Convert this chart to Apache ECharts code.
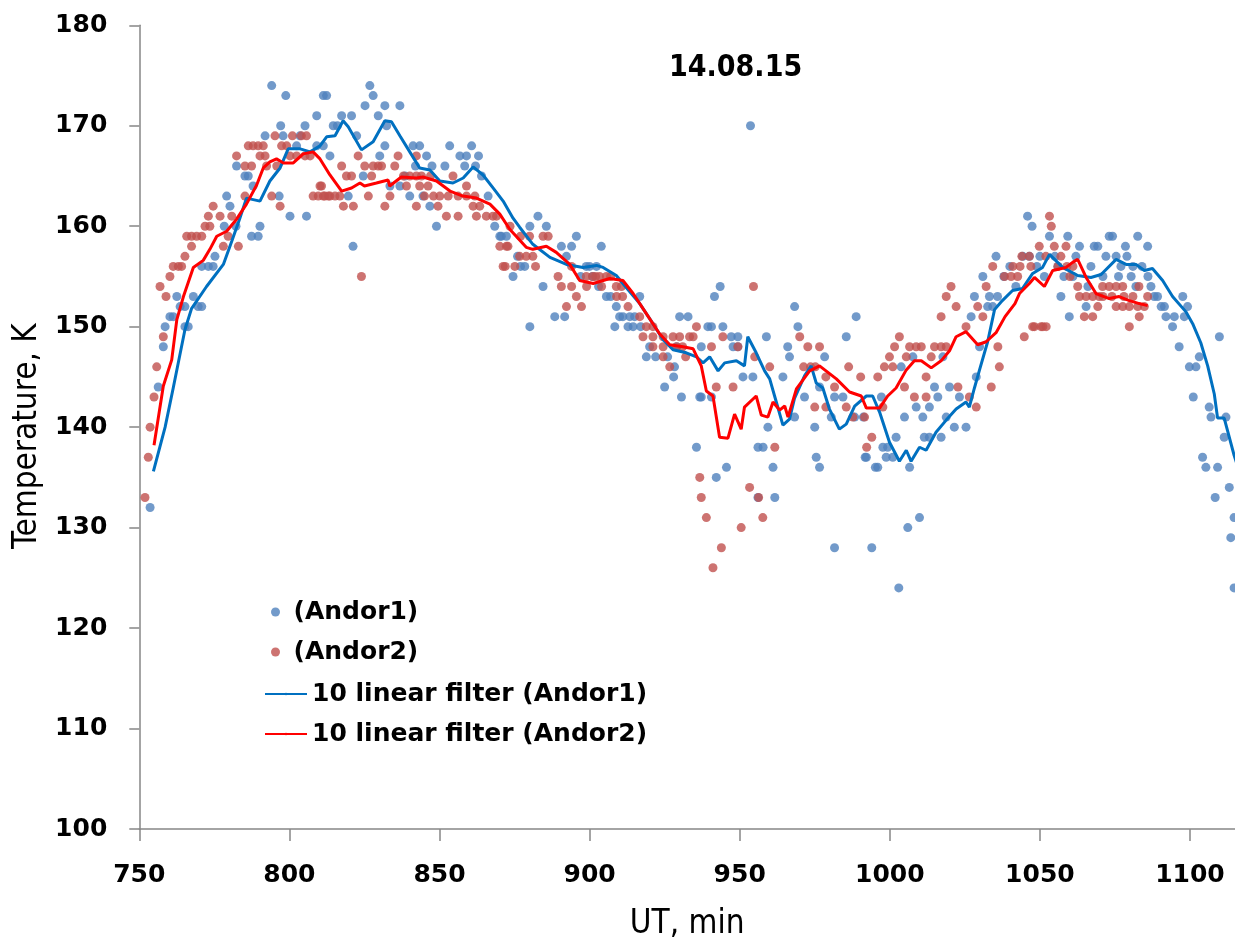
<!DOCTYPE html>
<html>
<head>
<meta charset="utf-8">
<script src="https://cdn.jsdelivr.net/npm/echarts@6/dist/echarts.min.js"></script>
<style>
html,body{margin:0;padding:0;background:#fff;}
#chart{width:1235px;height:946px;}
</style>
</head>
<body>
<div id="chart"></div>
<script>
const chartTitle = '14.08.15';
const xAxisName = 'UT, min';
const yAxisName = 'Temperature, K';
const xTicks = [750, 800, 850, 900, 950, 1000, 1050, 1100];
const yTicks = [100, 110, 120, 130, 140, 150, 160, 170, 180];
const seriesNames = ['(Andor1)', '(Andor2)', '10 linear filter (Andor1)', '10 linear filter (Andor2)'];

// Andor1 measurements [UT min, K]
const andor1 = [
[753.6,132],[756.3,144],[758,148],[758.6,150],[760.2,151],[761.3,151],[762.5,153],[763.6,152],[765.2,152],[765.2,150],[766.3,150],[768,153],[769.6,152],[770.8,152],[770.8,156],[773,156],[774.6,156],[775.2,157],[778.3,160],[779.1,163],[780.2,162],[782.2,160],[782.4,166],[785.2,165],[786.3,165],[787.4,159],[787.9,164],[789.6,159],[790.2,160],[791.9,169],[794.1,174],[796.6,163],[797.1,170],[797.9,169],[798.8,173],[800.2,161],[802.4,168],[803.5,169],[805.2,170],[805.7,161],[809.1,171],[809.1,168],[811.3,168],[811.3,173],[812.4,173],[813.5,167],[814.6,170],[816,170],[817.4,171],[819.6,163],[820.7,171],[821.2,158],[822.4,169],[824.6,165],[825.2,172],[826.8,174],[827.9,173],[829.6,171],[830.1,167],[831.8,172],[831.8,168],[832.4,170],[833.5,164],[836.8,164],[836.8,172],[838.5,165],[840.1,163],[841.2,168],[842,166],[843.4,168],[844.5,163],[845.7,167],[846.8,162],[847.5,166],[849,160],[851.8,166],[853.4,168],[856.8,167],[858.4,166],[859,167],[860.7,168],[862,166],[863,167],[864,165],[866.2,163],[868.4,160],[870.1,159],[870.6,159],[872.3,159],[874.5,155],[876,157],[877,156],[878.4,156],[880.1,160],[880.1,150],[882.8,161],[884.5,154],[885.6,160],[888.4,151],[890.6,158],[891.7,151],[892.3,157],[894,158],[895.6,159],[897,155],[898.9,156],[900,156],[901,155],[902.3,156],[903,154],[903.9,158],[905.6,153],[907,153],[908.4,150],[908.9,152],[910,151],[911.1,151],[912.8,150],[913.4,151],[914.5,150],[915,151],[916.7,153],[917,150],[918.9,147],[920,148],[922,147],[925,144],[926,147],[928,145],[928.3,146],[929,148],[930,151],[930.6,143],[932.8,151],[935.6,138],[936.7,143],[937.2,148],[937.2,143],[939.4,150],[940.6,150],[940.6,143],[941.6,153],[942.2,135],[943.5,154],[944.4,150],[945.6,136],[947.2,149],[947.8,148],[949.4,149],[949.4,148],[951.1,145],[953.6,170],[954.4,145],[956.1,138],[956.1,133],[957.8,138],[958.9,149],[959.4,140],[961.1,136],[961.7,133],[964.4,145],[966,148],[966.6,147],[968.3,152],[968.3,141],[969.4,150],[971.6,143],[975,140],[975.5,137],[976.6,144],[976.6,136],[978.3,147],[980.5,141],[981.6,143],[981.6,128],[984.4,143],[985.5,149],[988.3,141],[988.8,151],[991.2,141],[991.8,137],[992.2,137],[994,128],[995.2,136],[996,136],[997.2,143],[997.7,138],[998.8,137],[999.3,138],[1001,137],[1002.1,139],[1003,124],[1003.8,146],[1004.9,141],[1006,130],[1006.6,136],[1007.7,147],[1008.8,142],[1009.9,131],[1011,141],[1011.5,139],[1013.2,139],[1013.2,142],[1014.9,144],[1016,143],[1017.1,139],[1017.7,147],[1018.8,141],[1019.9,144],[1021.5,140],[1023.2,143],[1025.4,140],[1027.1,151],[1028.2,153],[1028.8,145],[1029.9,148],[1031,155],[1032.6,152],[1033.2,153],[1034.3,152],[1035.4,157],[1035.9,153],[1038,155],[1040,156],[1042,154],[1044.3,157],[1045.9,161],[1046.5,157],[1047.4,160],[1049,156],[1050,157],[1051.5,155],[1053.2,159],[1055,157],[1056,156],[1057,153],[1058,155],[1059.3,159],[1059.8,151],[1061,155],[1062,157],[1063.2,158],[1065.4,152],[1066,154],[1067,156],[1068.1,158],[1069.3,158],[1071,155],[1072,157],[1073.1,159],[1074.2,159],[1075.4,157],[1076.2,155],[1077,156],[1078.5,158],[1079,157],[1080.4,155],[1081,156],[1082,154],[1082.6,159],[1084,156],[1085.9,158],[1086,155],[1087,154],[1088.1,153],[1089.2,153],[1090.4,152],[1091.5,152],[1092,151],[1094.2,150],[1094.8,151],[1096.4,148],[1097.6,153],[1098.1,151],[1099.2,152],[1099.8,146],[1101.1,143],[1102,146],[1103.1,147],[1104.2,137],[1105.3,136],[1106.4,142],[1107,141],[1108.4,133],[1109.2,136],[1109.8,149],[1111.4,139],[1112,141],[1113.1,134],[1113.6,129],[1114.7,131],[1114.7,124]
];

// Andor2 measurements [UT min, K]
const andor2 = [
[751.9,133],[753,137],[753.6,140],[754.9,143],[755.8,146],[756.9,154],[758,149],[758.9,153],[760.2,155],[761.3,156],[763,156],[764.1,156],[765.2,157],[765.8,159],[767.4,158],[767.4,159],[769.1,159],[770.8,159],[771.9,160],[773,161],[773.5,160],[774.6,162],[776.9,161],[778,158],[779.6,159],[780.8,161],[782.4,167],[783,158],[785.2,163],[785.2,166],[786.3,168],[787.4,166],[787.9,168],[789.6,168],[790.2,167],[791.3,168],[791.9,167],[792.4,166],[794.1,163],[795.2,169],[795.8,166],[796.9,162],[797.4,168],[799.1,168],[800.2,167],[801,169],[802.4,167],[804,169],[805.2,167],[805.7,169],[806.9,167],[807.9,163],[809.6,163],[810.2,164],[810.7,164],[811.3,163],[811.8,163],[813,163],[813.5,163],[815.2,163],[816.8,163],[817.4,166],[818,162],[819,165],[820.7,165],[821.3,162],[822.9,167],[824,155],[825.1,166],[826.3,163],[827.4,165],[827.9,166],[829.6,166],[830.7,166],[831.8,162],[833.5,163],[835.1,166],[836.2,167],[838,165],[839,164],[840.1,165],[842.3,167],[842.3,165],[842.3,162],[843.4,164],[844,165],[845,163],[846.2,164],[847,165],[848,163],[849.5,162],[850.1,163],[852.3,161],[852.9,163],[854.5,165],[856.2,163],[856.2,161],[859,164],[859,163],[861.2,162],[861.8,163],[862.3,161],[863.4,162],[865.6,161],[867.8,161],[869,161],[870.1,158],[871.2,156],[871.9,156],[872.3,158],[872.8,158],[873.5,160],[875.1,156],[876.7,157],[877,159],[878.9,157],[880,159],[881.1,157],[882,156],[884.5,159],[886.2,159],[889.5,155],[890.6,154],[892.3,152],[894,154],[894,156],[895.6,153],[897.3,152],[898.9,155],[899,154],[901,155],[902,155],[903.3,155],[904,154],[905.6,155],[907,155],[908.9,154],[909,153],[910.6,154],[911,153],[912.8,152],[916.7,151],[917.8,149],[918.9,150],[921.1,150],[921.1,149],[921.1,148],[924.5,149],[924.5,148],[924.5,147],[926.7,146],[927.8,149],[929,148],[930,149],[931,148],[932,147],[933.3,149],[934.5,149],[935.6,150],[936.7,135],[937.2,133],[938.9,131],[940.6,148],[941.1,126],[942.2,144],[943.9,128],[944.4,149],[947.8,144],[949.4,148],[950.5,130],[953.3,134],[954.6,154],[955,147],[956.3,133],[957.7,131],[960,146],[961.7,138],[970,149],[971.3,146],[972.7,148],[973.6,146],[975,142],[975.2,146],[976.6,148],[978.7,145],[978.7,142],[981.6,144],[985.5,142],[986.3,146],[987.7,141],[990.3,145],[991.6,141],[992.3,138],[994,139],[996,145],[997.7,142],[998.2,146],[999.9,147],[1001,146],[1001.6,148],[1003.2,149],[1004.9,144],[1005.5,147],[1006.6,148],[1008.2,143],[1008.8,148],[1010.5,148],[1012.1,145],[1012.1,143],[1013.8,147],[1014.9,148],[1017.1,151],[1017.1,148],[1018.8,153],[1018.8,148],[1020.4,154],[1022.1,152],[1022.7,144],[1025.4,150],[1026.5,143],[1028.8,142],[1029.3,152],[1031,151],[1032.1,154],[1033.8,144],[1034.3,156],[1036,148],[1036.5,146],[1038.2,155],[1040.4,155],[1041,156],[1042.6,155],[1043.4,156],[1044,157],[1044.8,149],[1046.5,157],[1047,156],[1047.6,150],[1048.2,150],[1049.8,158],[1050.4,150],[1051,150],[1052,157],[1052.1,150],[1053.2,161],[1053.8,160],[1054.8,158],[1056,156],[1057,157],[1058.7,158],[1059,156],[1060,155],[1061,156],[1062.6,154],[1063.2,153],[1064.8,151],[1065.4,153],[1067.6,153],[1067.6,151],[1069.3,152],[1069.8,153],[1070.9,154],[1071,153],[1073.1,154],[1074,153],[1075.4,154],[1075.4,152],[1077.6,154],[1077.6,152],[1078,153],[1079.8,152],[1079.8,150],[1081,153],[1082.6,152],[1083,154],[1083.1,151],[1084.8,152],[1085.9,153]
];

// 10-point linear filter of Andor1 [UT min, K]
const filter1 = [
[754.7,135.6],[758.6,140],[761.3,143.9],[765.2,149.7],[767.4,151.8],[772.4,154],[778,156.2],[780.8,158.5],[783.5,160.8],[785.7,162.8],[790.2,162.5],[793.5,164.5],[796.9,165.8],[799.6,167.7],[803.6,167.7],[806.9,167.4],[810.2,168],[812.4,168.9],[815.2,169],[817.9,170.5],[819.6,169.9],[824,167.6],[827.9,168.4],[831.8,170.5],[834,170.4],[836.8,169],[840.1,167.4],[843.4,165.8],[846.8,165.6],[850.1,164.5],[854.5,164.3],[857.9,164.8],[861.2,165.9],[864.5,165.1],[867.9,163.8],[871.2,162.5],[874.5,160.8],[876.7,159.9],[881.1,158.2],[886.8,156.9],[892.3,156.2],[897.8,155.9],[902.3,156.1],[904.5,155.9],[908.9,155.1],[912.2,153.9],[916.7,152.3],[921.1,150.3],[924.5,148.7],[927.8,147.7],[932.2,147.4],[935.6,147],[937.8,146.4],[940,147],[942.8,145.6],[945,146.4],[948.9,146.6],[951.6,146.1],[952.7,149],[955.5,147.4],[958.3,145.6],[960,144.8],[962.2,142.5],[964.4,140.2],[966.6,140.8],[968.3,142.9],[971.6,145.1],[973.8,146.1],[975.5,144.4],[977.7,143.9],[979.9,141.8],[983.2,139.8],[985.5,140.3],[988.3,142.1],[992.2,143.1],[994.3,143.1],[996.6,141.5],[999.9,138.5],[1003.2,136.6],[1005.5,137.7],[1007.1,136.6],[1009.9,138],[1012.1,137.7],[1015.4,139.5],[1018.8,140.7],[1022.1,141.8],[1025.4,142.5],[1026.5,142],[1028.2,143.9],[1029.9,145.7],[1032.6,148.5],[1034.9,151.7],[1037.5,152.6],[1040.9,153.6],[1044.2,153.8],[1047.6,155.3],[1050.9,155.9],[1053.2,157.2],[1057.6,155.9],[1062.6,155.1],[1067,154.9],[1070.4,155.2],[1075.4,156.7],[1078.7,156.2],[1082,156.2],[1084.8,155.6],[1087.5,155.8],[1090.9,154.6],[1094.2,153],[1098.6,151.5],[1100.9,150.3],[1103.6,148.4],[1105.9,146.1],[1108.1,143.3],[1109.2,140.9],[1111.4,140.9],[1114.7,137.2],[1116,136]
];

// 10-point linear filter of Andor2 [UT min, K]
const filter2 = [
[754.9,138.2],[758,144.1],[760.8,146.7],[762.5,150.7],[764.7,153],[768,155.9],[771.3,156.6],[773.5,157.7],[775.8,159],[779.1,159.5],[782.4,160.7],[785.7,162.2],[789.1,164.1],[791.3,165.8],[793.5,166.4],[795.7,166.7],[798,166.3],[801.3,166.3],[804.6,167.2],[807.9,167.4],[810.2,166.7],[813.5,165.1],[817.4,163.5],[820.7,163.8],[823.5,164.3],[825,164],[829,164.3],[832.9,164.6],[833.4,164],[837.3,164.9],[842.3,164.8],[844.5,164.9],[849,164.5],[853.5,163.5],[857.8,163],[862.3,162.8],[866.8,162.2],[870.1,161.2],[873.4,159.7],[878.9,157.9],[881.1,157.7],[885.6,158],[888.9,157.4],[893.4,156.2],[896.7,154.6],[901.2,154.3],[906.7,154.8],[911.1,154.6],[914.5,153.3],[918.9,151.3],[923.3,149.3],[926.7,148.2],[931.1,148],[934.5,147.8],[937.2,146.1],[938.9,143.6],[941.1,143.1],[943.3,139],[946.1,138.9],[948.3,141.3],[950.5,139.8],[951.6,142],[955.5,143.1],[957.2,141.2],[959.4,141],[961.1,142.5],[963.3,141.7],[965,142.1],[966.1,141],[968.9,143.8],[973.3,145.6],[976.6,146.1],[982.2,144.8],[986.6,143.5],[990.5,143.1],[992.2,141.9],[996.6,141.9],[999.3,143.1],[1002.1,143.9],[1005.5,145.7],[1008.2,146.6],[1010.5,146.6],[1013.8,145.9],[1017.1,146.6],[1019.9,147.6],[1022.1,149],[1025.4,149.5],[1029.3,148.2],[1032.1,148.5],[1035.4,149.4],[1038.4,151],[1041.7,152.3],[1043.2,153.3],[1046.5,154.3],[1048.2,154.9],[1051.5,154],[1054.3,155.6],[1058.7,155.9],[1060.9,156.4],[1062.6,156.7],[1065.4,154.9],[1068.7,153.3],[1073.1,152.8],[1076.4,153],[1079.8,152.6],[1083.1,152.3],[1085.9,152.1]
];

const chart = echarts.init(document.getElementById('chart'), null, {renderer: 'canvas'});
const axisGray = '#868686';
const labelFont = {color: '#000', fontFamily: 'DejaVu Sans', fontWeight: 'bold', fontSize: 25};

chart.setOption({
  animation: false,
  backgroundColor: '#ffffff',
  title: {
    text: chartTitle,
    left: 669, top: 53, padding: 0,
    textStyle: {fontFamily: 'DejaVu Sans Condensed', fontWeight: 'bold', fontSize: 30, color: '#000'}
  },
  grid: {left: 139.3, top: 25.3, right: 0, bottom: 107.7, containLabel: false},
  legend: [
    {
      data: [seriesNames[0], seriesNames[1]],
      orient: 'vertical', left: 266, top: 592,
      itemWidth: 26, itemHeight: 9, itemGap: 10,
      textStyle: {fontFamily: 'DejaVu Sans', fontWeight: 'bold', fontSize: 25, color: '#000', lineHeight: 30}
    },
    {
      data: [seriesNames[2], seriesNames[3]],
      orient: 'vertical', left: 259, top: 674,
      itemWidth: 42, itemHeight: 3, itemGap: 10,
      textStyle: {fontFamily: 'DejaVu Sans', fontWeight: 'bold', fontSize: 25, color: '#000', lineHeight: 30}
    }
  ],
  xAxis: {
    type: 'value', min: 750, max: 1115, interval: 50,
    name: xAxisName, nameLocation: 'middle', nameGap: 79,
    nameTextStyle: {fontFamily: 'DejaVu Sans Condensed', fontSize: 33, color: '#000'},
    axisLine: {show: true, lineStyle: {color: axisGray, width: 1.5}},
    axisTick: {show: true, length: 12, lineStyle: {color: axisGray, width: 1.5}, customValues: xTicks},
    axisLabel: Object.assign({margin: 34, customValues: xTicks,
      formatter: v => (xTicks.indexOf(v) >= 0 ? String(v) : '')}, labelFont),
    splitLine: {show: false}
  },
  yAxis: {
    type: 'value', min: 100, max: 180, interval: 10,
    name: yAxisName, nameLocation: 'middle', nameGap: 95, nameRotate: 90,
    nameTextStyle: {fontFamily: 'DejaVu Sans Condensed', fontSize: 33, color: '#000', padding: [0, 18, 0, 0]},
    axisLine: {show: true, lineStyle: {color: axisGray, width: 1.5}},
    axisTick: {show: true, length: 10, lineStyle: {color: axisGray, width: 1.5}},
    axisLabel: Object.assign({margin: 32}, labelFont),
    splitLine: {show: false}
  },
  series: [
    {name: seriesNames[0], type: 'scatter', data: andor1, symbol: 'circle', symbolSize: 9,
     itemStyle: {color: '#4F81BD'}},
    {name: seriesNames[1], type: 'scatter', data: andor2, symbol: 'circle', symbolSize: 9,
     itemStyle: {color: '#C0504D'}},
    {name: seriesNames[2], type: 'line', data: filter1, showSymbol: false, symbol: 'none',
     lineStyle: {color: '#0070C0', width: 3}, itemStyle: {color: '#0070C0'}},
    {name: seriesNames[3], type: 'line', data: filter2, showSymbol: false, symbol: 'none',
     lineStyle: {color: '#FF0000', width: 3}, itemStyle: {color: '#FF0000'}}
  ]
});
</script>
</body>
</html>
